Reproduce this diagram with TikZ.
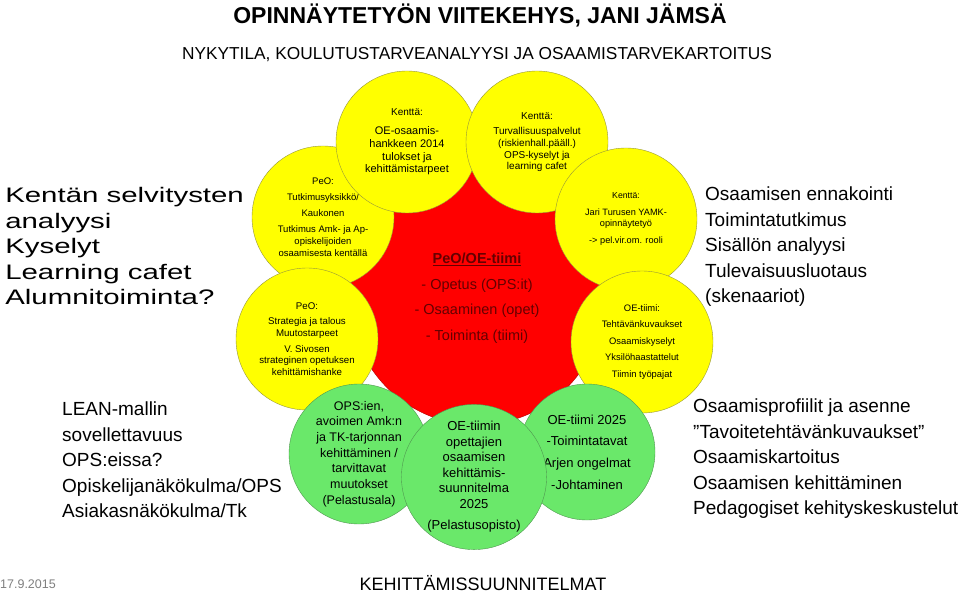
\documentclass[tikz,border=0pt]{standalone}
\usepackage{fontspec}
\setmainfont{Liberation Sans}
\definecolor{pallo}{RGB}{255,255,0}
\definecolor{pallonreuna}{RGB}{150,150,60}
\definecolor{vihrea}{RGB}{106,232,106}
\definecolor{vihreanreuna}{RGB}{80,150,80}
\definecolor{punainen}{RGB}{255,0,0}
\definecolor{tummapun}{RGB}{100,0,0}
\begin{document}
\begin{tikzpicture}[x=1pt,y=-1pt,
  yelball/.style={circle,draw=pallonreuna,fill=pallo,minimum size=142pt,inner sep=0pt,align=center},
  greenball/.style={circle,draw=vihreanreuna,fill=vihrea,minimum size=140pt,inner sep=0pt,align=center},
  sidetext/.style={inner sep=0pt,align=left,anchor=west,font=\fontsize{19}{25.5}\selectfont}]
\useasboundingbox (0,0) rectangle (960,593);
\node[inner sep=0pt,font=\fontsize{23}{26}\selectfont\bfseries] (otsikko) at (480,15) {OPINNÄYTETYÖN VIITEKEHYS, JANI JÄMSÄ};
\node[inner sep=0pt,font=\fontsize{17.3}{20}\selectfont] (alaotsikko) at (477,55) {NYKYTILA, KOULUTUSTARVEANALYYSI JA OSAAMISTARVEKARTOITUS};
\node[circle,draw=punainen!70!black,fill=punainen,minimum size=254pt,inner sep=0pt,align=center,text=tummapun,
  font=\fontsize{14.5}{25.5}\selectfont] (tiimi) at (477,298)
  {\underline{\textbf{PeO/OE-tiimi}}\\ - Opetus (OPS:it)\\ - Osaaminen (opet)\\ - Toiminta (tiimi)};
\node[yelball,font=\fontsize{9.5}{12}\selectfont] (tutkimus) at (323,217)
  {PeO:\\[4pt] Tutkimusyksikkö/\\[4.5pt] Kaukonen\\[4pt] Tutkimus Amk- ja Ap-\\ opiskelijoiden\\ osaamisesta kentällä};
\node[yelball,font=\fontsize{9.7}{11.7}\selectfont] (strategia) at (307,339)
  {PeO:\\[4pt] Strategia ja talous\\ Muutostarpeet\\[4pt] V. Sivosen\\ strateginen opetuksen\\ kehittämishanke};
\node[yelball,font=\fontsize{11}{12.8}\selectfont] (hanke) at (407,142)
  {{\fontsize{10}{12}\selectfont Kenttä:}\\[6pt] OE-osaamis-\\ hankkeen 2014\\ tulokset ja\\ kehittämistarpeet};
\node[yelball,font=\fontsize{10}{11.7}\selectfont] (turva) at (537,142)
  {Kenttä:\\[4pt] Turvallisuuspalvelut\\ (riskienhall.pääll.)\\ OPS-kyselyt ja\\ learning cafet};
\node[yelball,font=\fontsize{9.2}{11}\selectfont] (yamk) at (626,219)
  {{\fontsize{8.7}{11}\selectfont Kenttä:}\\[6pt] Jari Turusen YAMK-\\ opinnäytetyö\\[6pt] -> pel.vir.om. rooli};
\node[yelball,font=\fontsize{9.4}{16.5}\selectfont] (oetiimi) at (642,342)
  {OE-tiimi:\\ Tehtävänkuvaukset\\ Osaamiskyselyt\\ Yksilöhaastattelut\\ Tiimin työpajat};
\node[greenball,font=\fontsize{12.5}{15.7}\selectfont] (ops) at (359,454)
  {OPS:ien,\\ avoimen Amk:n\\ ja TK-tarjonnan\\ kehittäminen /\\ tarvittavat\\ muutokset\\ (Pelastusala)};
\node[greenball,minimum size=136pt,font=\fontsize{13}{21.7}\selectfont] (tiimi2025) at (587,452)
  {OE-tiimi 2025\\ -Toimintatavat\\ Arjen ongelmat\\ -Johtaminen};
\node[greenball,font=\fontsize{13}{15.5}\selectfont] (opettajat) at (474,477)
  {OE-tiimin\\ opettajien\\ osaamisen\\ kehittämis-\\ suunnitelma\\ 2025\\[6pt] (Pelastusopisto)};
\node[sidetext,font=\fontsize{21}{25.5}\selectfont,xscale=1.4,transform shape] (kentta) at (5,246)
  {Kentän selvitysten\\ analyysi\\ Kyselyt\\ Learning cafet\\ Alumnitoiminta?};
\node[sidetext] (ennakointi) at (705,247)
  {Osaamisen ennakointi\\ Toimintatutkimus\\ Sisällön analyysi\\ Tulevaisuusluotaus\\ (skenaariot)};
\node[sidetext] (lean) at (62,460)
  {LEAN-mallin\\ sovellettavuus\\ OPS:eissa?\\ Opiskelijanäkökulma/OPS\\ Asiakasnäkökulma/Tk};
\node[sidetext] (profiilit) at (693,459)
  {Osaamisprofiilit ja asenne\\ ”Tavoitetehtävänkuvaukset”\\ Osaamiskartoitus\\ Osaamisen kehittäminen\\ Pedagogiset kehityskeskustelut};
\node[inner sep=0pt,anchor=west,text=gray,font=\fontsize{12.5}{14}\selectfont] (pvm) at (0,584) {17.9.2015};
\node[inner sep=0pt,font=\fontsize{18}{20}\selectfont] (suunnitelmat) at (483,583) {KEHITTÄMISSUUNNITELMAT};
\end{tikzpicture}
\end{document}
